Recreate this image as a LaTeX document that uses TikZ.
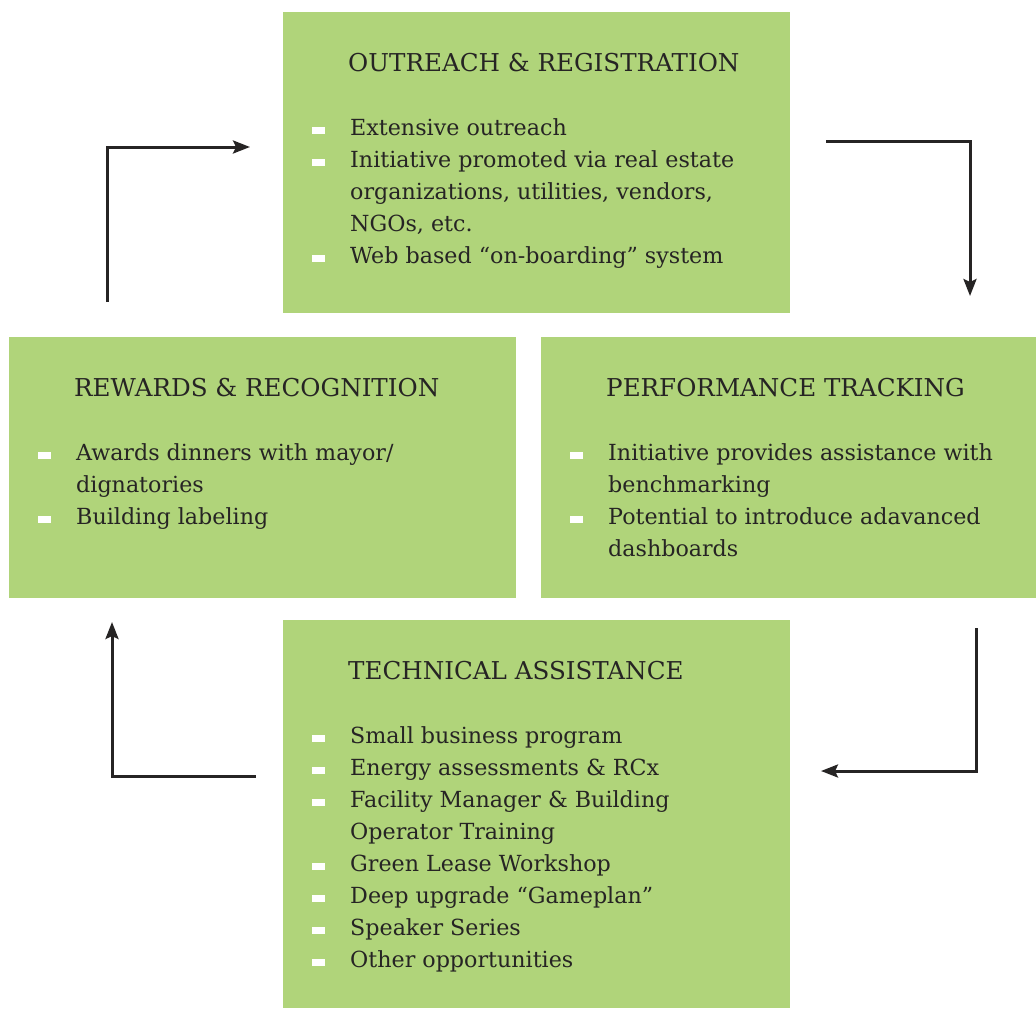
\documentclass[tikz,border=0pt]{standalone}
\usepackage{fontspec}
\setmainfont{DejaVu Serif}
\usetikzlibrary{arrows.meta}

\definecolor{boxgreen}{RGB}{176,212,122}
\definecolor{ink}{RGB}{38,36,36}

% white bar bullet and the indent for wrapped lines
\newcommand{\bul}{\makebox[38pt][l]{\textcolor{white}{\rule[1.5pt]{13pt}{7pt}}}}
\newcommand{\cont}{\hspace*{38pt}}

\begin{document}
\begin{tikzpicture}[x=1pt, y=-1pt, >={Stealth[length=17pt,width=13pt,inset=3pt]},
    stagebox/.style={fill=boxgreen, inner sep=0, anchor=north west},
    head/.style={anchor=base west, inner sep=0, text=ink, font=\fontsize{24.6}{28}\selectfont},
    items/.style={anchor=north west, inner sep=0, align=left, text=ink, font=\fontsize{22.2}{32}\selectfont},
    flow/.style={line width=3pt, draw=ink, ->}]
        \useasboundingbox (0,0) rectangle (1036,1009);

        % Boxes
        \node[stagebox, minimum width=507pt, minimum height=301pt] (outreach) at (283,12) {};
        \node[stagebox, minimum width=507pt, minimum height=261pt] (rewards) at (9,337) {};
        \node[stagebox, minimum width=495pt, minimum height=261pt] (tracking) at (541,337) {};
        \node[stagebox, minimum width=507pt, minimum height=388pt] (assist) at (283,620) {};

        % Titles
        \node[head] (outreach-t) at ([xshift=65pt,yshift=-59pt]outreach.north west) {OUTREACH \& REGISTRATION};
        \node[head] (rewards-t) at ([xshift=65pt,yshift=-59pt]rewards.north west) {REWARDS \& RECOGNITION};
        \node[head] (tracking-t) at ([xshift=65pt,yshift=-59pt]tracking.north west) {PERFORMANCE TRACKING};
        \node[head] (assist-t) at ([xshift=65pt,yshift=-59pt]assist.north west) {TECHNICAL ASSISTANCE};

        % Bullet lists
        \node[items] (outreach-l) at ([xshift=29pt,yshift=-100.6pt]outreach.north west)
            {\strut\bul Extensive outreach\\
             \bul Initiative promoted via real estate\\
             \cont organizations, utilities, vendors,\\
             \cont NGOs, etc.\\
             \bul Web based “on-boarding” system};
        \node[items] (rewards-l) at ([xshift=29pt,yshift=-100.6pt]rewards.north west)
            {\strut\bul Awards dinners with mayor/\\
             \cont dignatories\\
             \bul Building labeling};
        \node[items] (tracking-l) at ([xshift=29pt,yshift=-100.6pt]tracking.north west)
            {\strut\bul Initiative provides assistance with\\
             \cont benchmarking\\
             \bul Potential to introduce adavanced\\
             \cont dashboards};
        \node[items] (assist-l) at ([xshift=29pt,yshift=-100.6pt]assist.north west)
            {\strut\bul Small business program\\
             \bul Energy assessments \& RCx\\
             \bul Facility Manager \& Building\\
             \cont Operator Training\\
             \bul Green Lease Workshop\\
             \bul Deep upgrade “Gameplan”\\
             \bul Speaker Series\\
             \bul Other opportunities};

        % Arrow ends
        \coordinate (tl-a) at (107,302);
        \coordinate (tl-b) at (250,147);
        \coordinate (tr-a) at (826,141);
        \coordinate (tr-b) at (970,296);
        \coordinate (br-a) at (976,628);
        \coordinate (br-b) at (821,771);
        \coordinate (bl-a) at (256,776);
        \coordinate (bl-b) at (112,622);

        % Cycle arrows
        \draw[flow] (tl-a) |- (tl-b);
        \draw[flow] (tr-a) -| (tr-b);
        \draw[flow] (br-a) |- (br-b);
        \draw[flow] (bl-a) -| (bl-b);
    \end{tikzpicture}
\end{document}
